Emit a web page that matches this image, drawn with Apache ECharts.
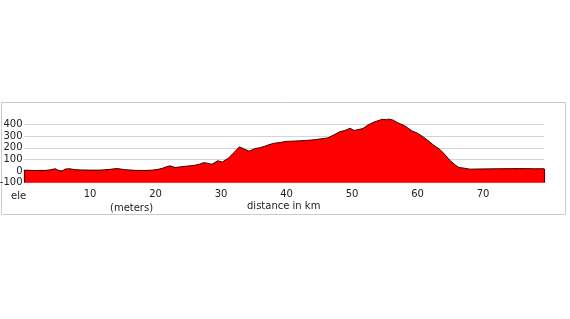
<!DOCTYPE html>
<html><head><meta charset="utf-8">
<script src="https://cdn.jsdelivr.net/npm/echarts@6/dist/echarts.min.js"></script>
<style>html,body{margin:0;padding:0;background:#fff}#c{width:570px;height:319px}</style>
</head><body><div id="c"></div>
<script>
const distanceKm = [0,0.84,1.6,2.4,3.1,3.9,4.7,5.1,5.6,6.2,6.9,7.7,8.5,10,11.5,13.1,14.1,15.3,16.9,18.4,19.5,20.4,21,21.6,22.2,23,24,25.3,26,26.8,27.3,27.9,28.6,29.5,30.2,31.1,32,32.8,33.5,34.3,35.2,35.9,36.7,37.5,38.2,39,39.9,41.3,42.8,44.4,45.4,46.3,47.2,48.2,48.9,49.7,50.3,50.9,51.7,52.4,53.2,53.9,54.7,55.2,55.6,56.3,57,57.8,58.4,59.2,59.9,60.7,61.5,62.4,63.4,64.2,64.9,65.7,66.3,67.1,68,69.5,72.6,75.6,77.9,79.3];
const elevationM = [8,6,4,6,5,10,20,8,-5,17,20,12,10,8,8,15,22,12,6,5,8,15,23,35,45,30,38,45,50,60,72,68,58,88,78,110,160,208,190,171,194,200,214,230,240,245,255,258,262,270,278,285,310,340,348,368,349,356,366,395,417,432,446,440,448,437,414,395,375,343,328,300,266,225,186,140,94,55,31,25,16,18,20,21,20,20];
const xTicks = [10,20,30,40,50,60,70];
const yMin = -100, yMax = 450, yStep = 100;
const xMax = 79.3;

const FONT = 'DejaVu Sans';
const chart = echarts.init(document.getElementById('c'), null, {renderer:'canvas'});
const data = distanceKm.map((d,i)=>[d, elevationM[i]]);
const n = distanceKm.length;
chart.setOption({
  animation:false,
  grid:{left:24.5, right:26, top:118.7, bottom:136.3, containLabel:false, outerBoundsMode:'none'},
  xAxis:{type:'value', min:0, max:xMax,
    axisLine:{show:true, lineStyle:{color:'#5a0000', width:1.5}},
    axisTick:{show:true, customValues:xTicks, length:4, lineStyle:{color:'#c8c8c8'}},
    axisLabel:{customValues:xTicks, margin:7, fontFamily:FONT, fontSize:10, color:'#222'},
    splitLine:{show:false}},
  yAxis:{type:'value', min:yMin, max:yMax, interval:yStep,
    axisLine:{show:false}, axisTick:{show:false},
    axisLabel:{margin:2, fontFamily:FONT, fontSize:10, color:'#222', showMaxLabel:false},
    splitLine:{show:true, showMaxLine:false, lineStyle:{color:'#d4d4d4', width:1.2}}},
  series:[{type:'line', data:data, showSymbol:false, symbol:'none',
    lineStyle:{color:'#3a0000', width:1},
    areaStyle:{color:'#ff0000', opacity:1, origin:'start'},
    markLine:{silent:true, symbol:'none', label:{show:false},
      lineStyle:{color:'#5a0000', width:1.2, type:'solid'},
      data:[[{coord:[distanceKm[0], yMin]},{coord:[distanceKm[0], elevationM[0]]}],
            [{coord:[distanceKm[n-1], yMin]},{coord:[distanceKm[n-1], elevationM[n-1]]}]]}
  }],
  graphic:[
    {type:'rect', shape:{x:1.5, y:102.5, width:564, height:112}, style:{fill:'none', stroke:'#cccccc', lineWidth:1}, silent:true},
    {type:'text', x:11, y:196, style:{text:'ele', font:'10px "DejaVu Sans"', fill:'#222', textAlign:'left', textVerticalAlign:'middle'}},
    {type:'text', x:110, y:208.5, style:{text:'(meters)', font:'10px "DejaVu Sans"', fill:'#222', textAlign:'left', textVerticalAlign:'middle'}},
    {type:'text', x:247, y:206.5, style:{text:'distance in km', font:'10px "DejaVu Sans"', fill:'#222', textAlign:'left', textVerticalAlign:'middle'}}
  ]
});
</script></body></html>
